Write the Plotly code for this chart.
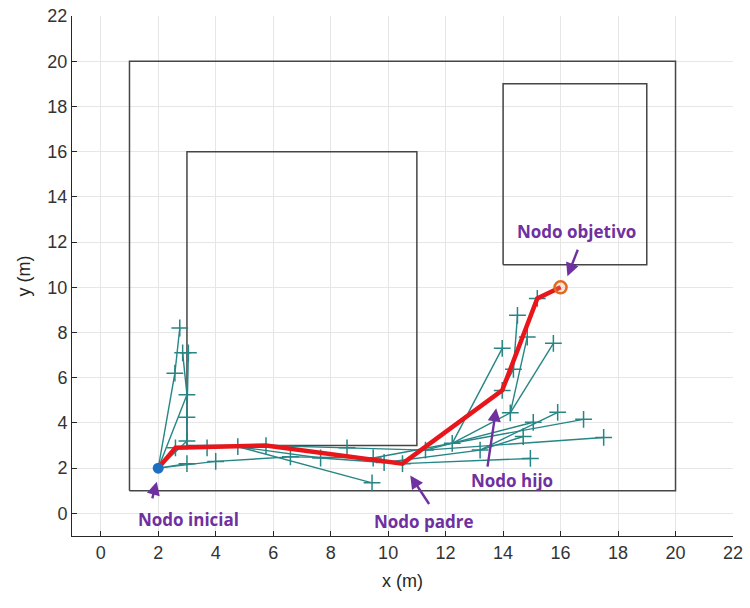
import plotly.graph_objects as go

# Obstacles / map rectangles: (x0, y0, x1, y1)
rect_x0 = [1, 3, 14]
rect_y0 = [1, 3, 11]
rect_x1 = [20, 11, 19]
rect_y1 = [20, 16, 19]

# RRT tree nodes and their parents
node_x = [2.0, 2.6, 2.58, 2.75, 3.0, 3.0, 3.0, 2.85, 3.05, 3.0,
          3.7, 4.0, 4.77, 5.75, 6.6, 7.65, 8.57, 9.44, 9.48, 9.86,
          10.5, 11.3, 12.23, 13.2, 13.97, 15.19, 16.0, 14.95, 17.5, 16.8,
          15.05, 14.7, 14.25, 15.9, 13.97, 15.75, 14.84, 14.36, 14.5]
node_y = [2.0, 2.9, 6.2, 8.2, 3.2, 4.25, 5.25, 7.1, 7.1, 2.2,
          2.9, 2.3, 2.95, 3.0, 2.5, 2.45, 2.9, 1.35, 2.45, 2.25,
          2.2, 2.8, 3.1, 2.8, 5.44, 9.51, 10.0, 2.43, 3.36, 4.16,
          4.03, 3.4, 4.45, 4.47, 7.3, 7.52, 7.8, 6.37, 8.76]
node_parent = [-1, 0, 0, 2, 0, 4, 0, 6, 5, 0,
               1, 0, 10, 1, 11, 12, 13, 12, 14, 15,
               13, 16, 18, 19, 20, 24, 25, 20, 21, 22,
               21, 23, 22, 23, 22, 32, 32, 24, 37]

# Final path (indices into nodes)
path_idx = [0, 1, 13, 20, 24, 25, 26]

start_xy = (2, 2)
goal_xy = (16, 10)

# Annotations: label, text x, text y, arrow tail x, tail y, head x, head y
ann_text = ["Nodo inicial", "Nodo padre", "Nodo hijo", "Nodo objetivo"]
ann_tx = [3.07, 11.25, 14.32, 16.55]
ann_ty = [-0.27, -0.35, 1.46, 12.48]
ann_ax = [1.78, 11.46, 13.45, 16.62]
ann_ay = [0.6, 0.35, 2.0, 11.73]
ann_hx = [1.95, 10.77, 13.76, 16.24]
ann_hy = [1.4, 1.68, 4.65, 10.49]

x_ticks = list(range(0, 23, 2))
y_ticks = list(range(0, 23, 2))

TEAL = "#268585"
PURPLE = "#7030a0"

fig = go.Figure()

# rectangles
for x0, y0, x1, y1 in zip(rect_x0, rect_y0, rect_x1, rect_y1):
    fig.add_trace(go.Scatter(x=[x0, x1, x1, x0, x0], y=[y0, y0, y1, y1, y0],
                             mode="lines", line=dict(color="#454545", width=1.5),
                             hoverinfo="skip", showlegend=False))

# tree edges
ex, ey = [], []
for i, p in enumerate(node_parent):
    if p < 0:
        continue
    ex += [node_x[p], node_x[i], None]
    ey += [node_y[p], node_y[i], None]
fig.add_trace(go.Scatter(x=ex, y=ey, mode="lines",
                         line=dict(color=TEAL, width=1.4), showlegend=False))
# tree node markers
mx = [node_x[i] for i in range(1, len(node_x)) if i != 26]
my = [node_y[i] for i in range(1, len(node_y)) if i != 26]
fig.add_trace(go.Scatter(x=mx, y=my, mode="markers",
                         marker=dict(symbol="cross-thin", size=12,
                                     line=dict(color=TEAL, width=1.5)),
                         showlegend=False))

# path
fig.add_trace(go.Scatter(x=[node_x[i] for i in path_idx],
                         y=[node_y[i] for i in path_idx], mode="lines",
                         line=dict(color="#e8161b", width=4.5), showlegend=False))

# start and goal
fig.add_trace(go.Scatter(x=[start_xy[0]], y=[start_xy[1]], mode="markers",
                         marker=dict(symbol="circle", size=11, color="#1f6fc0"),
                         showlegend=False))
fig.add_trace(go.Scatter(x=[goal_xy[0]], y=[goal_xy[1]], mode="markers",
                         marker=dict(symbol="circle", size=12, color="rgba(240,160,110,0.25)",
                                     line=dict(color="#e06a1e", width=2.5)),
                         showlegend=False))

for t, tx, ty, ax, ay, hx, hy in zip(ann_text, ann_tx, ann_ty, ann_ax, ann_ay, ann_hx, ann_hy):
    fig.add_annotation(x=tx, y=ty, text="<b>%s</b>" % t, showarrow=False,
                       font=dict(family="Open Sans", size=17, color=PURPLE))
    fig.add_annotation(x=hx, y=hy, ax=ax, ay=ay, axref="x", ayref="y", xref="x", yref="y",
                       text="", showarrow=True, arrowhead=2, arrowsize=1.1,
                       arrowwidth=2.4, arrowcolor=PURPLE)

axis_common = dict(showgrid=True, gridcolor="#e6e6e6", gridwidth=1,
                   zeroline=False, showline=True, linecolor="#262626", linewidth=1,
                   ticks="inside", ticklen=5, tickcolor="#262626", automargin=False,
                   tickfont=dict(family="Liberation Sans, Arial", size=18, color="#333333"),
                   title_font=dict(family="Liberation Sans, Arial", size=18, color="#262626"),
                   mirror=False)

fig.update_xaxes(range=[-1, 22], tickvals=x_ticks, title_text="x (m)", title_standoff=12,
                 **axis_common)
fig.update_yaxes(range=[-1, 22], tickvals=y_ticks, title_text="y (m)", title_standoff=12,
                 **axis_common)

fig.update_layout(width=750, height=608, margin=dict(l=72, r=17, t=16, b=72),
                  paper_bgcolor="white", plot_bgcolor="white", showlegend=False)

fig.write_html("out.html", config={"displayModeBar": False},
               post_script="document.body.style.margin='0';")
